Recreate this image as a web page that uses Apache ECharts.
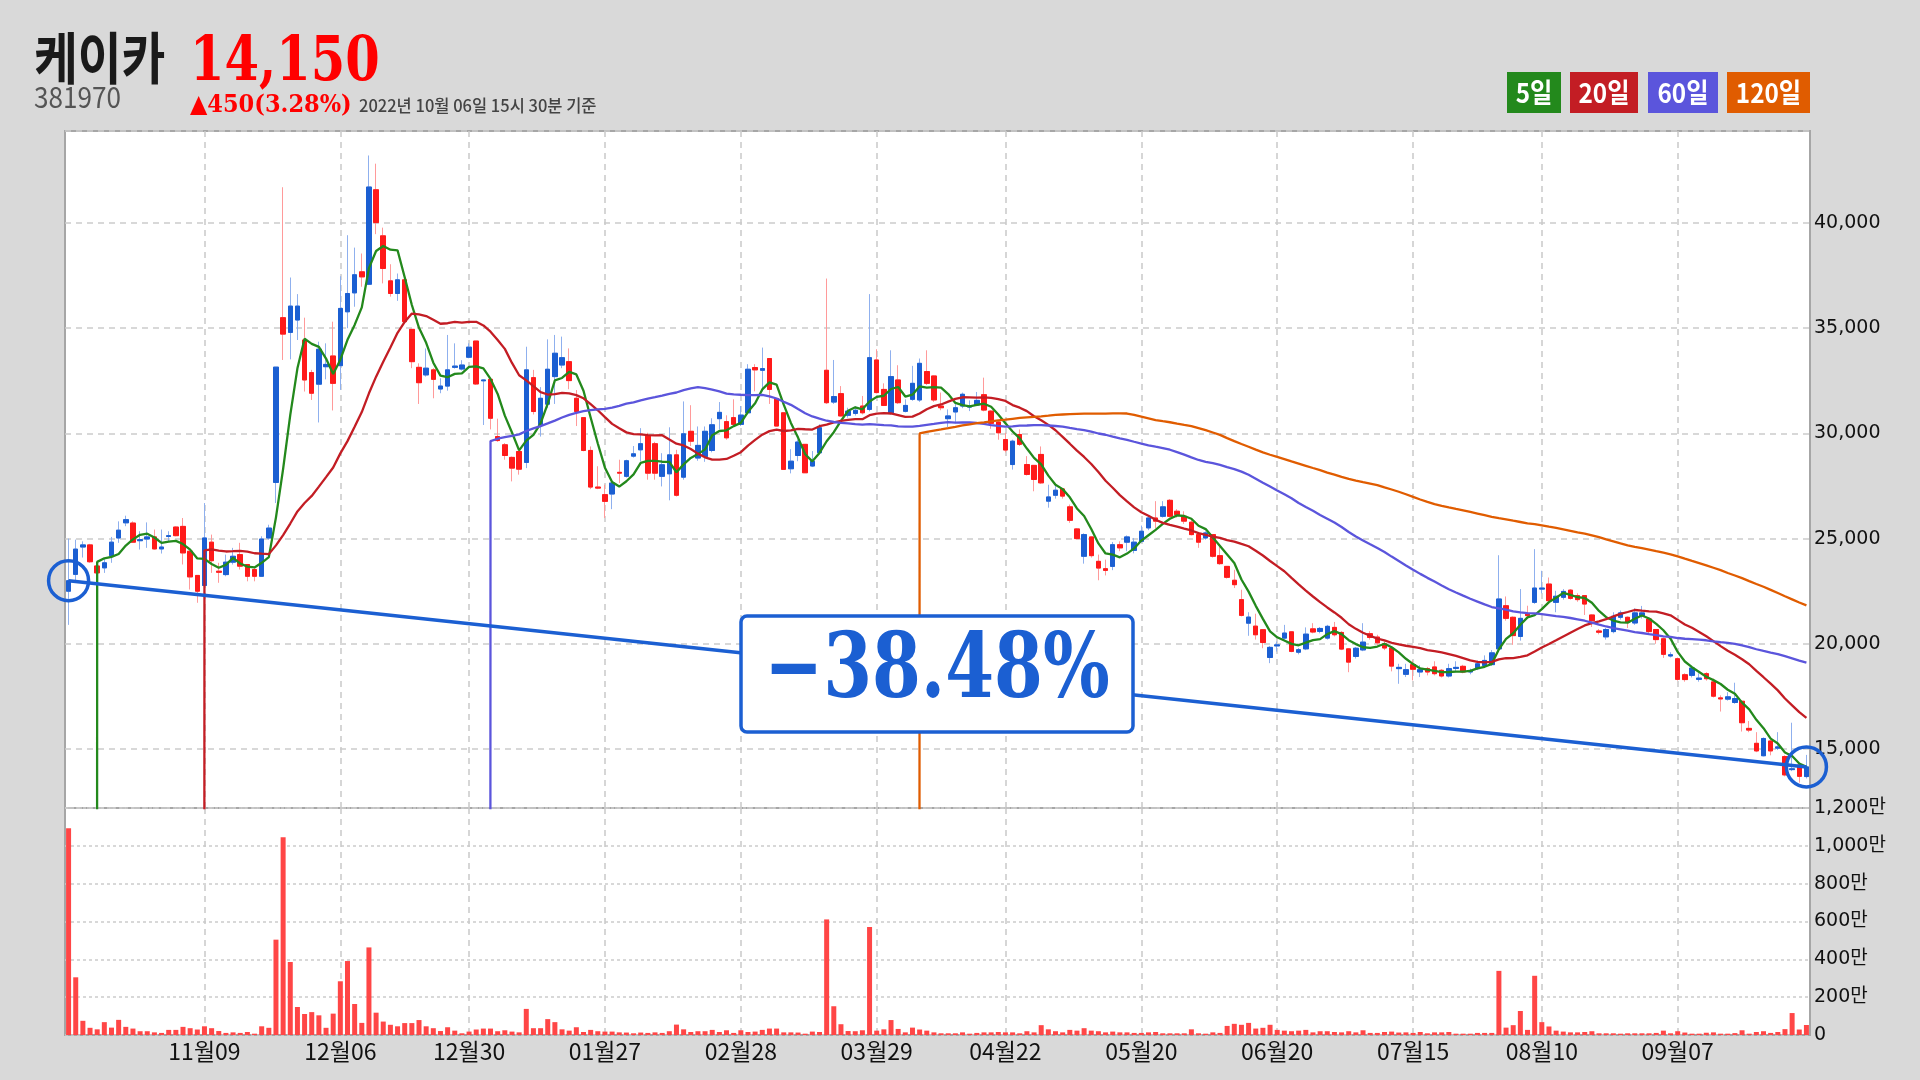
<!DOCTYPE html>
<html><head><meta charset="utf-8">
<script src="https://cdn.jsdelivr.net/npm/echarts@6/dist/echarts.min.js"></script>
<style>html,body{margin:0;padding:0;background:#d9d9d9;}#c{width:1920px;height:1080px;}</style>
</head><body><div id="c"></div>
<script>
const dates = [
'10월13','10월14','10월15','10월18','10월19','10월20','10월21','10월22','10월25','10월26','10월27','10월28','10월29',
'11월01','11월02','11월03','11월04','11월05','11월08','11월09','11월10','11월11','11월12','11월15','11월16','11월17','11월18','11월19','11월22','11월23','11월24','11월25','11월26','11월29','11월30',
'12월01','12월02','12월03','12월06','12월07','12월08','12월09','12월10','12월13','12월14','12월15','12월16','12월17','12월20','12월21','12월22','12월23','12월24','12월27','12월28','12월29','12월30',
'01월03','01월04','01월05','01월06','01월07','01월10','01월11','01월12','01월13','01월14','01월17','01월18','01월19','01월20','01월21','01월24','01월25','01월26','01월27','01월28',
'02월03','02월04','02월07','02월08','02월09','02월10','02월11','02월14','02월15','02월16','02월17','02월18','02월21','02월22','02월23','02월24','02월25','02월28',
'03월02','03월03','03월04','03월07','03월08','03월10','03월11','03월14','03월15','03월16','03월17','03월18','03월21','03월22','03월23','03월24','03월25','03월28','03월29','03월30','03월31',
'04월01','04월04','04월05','04월06','04월07','04월08','04월11','04월12','04월13','04월14','04월15','04월18','04월19','04월20','04월21','04월22','04월25','04월26','04월27','04월28','04월29',
'05월02','05월03','05월04','05월06','05월09','05월10','05월11','05월12','05월13','05월16','05월17','05월18','05월19','05월20','05월23','05월24','05월25','05월26','05월27','05월30','05월31',
'06월02','06월03','06월07','06월08','06월09','06월10','06월13','06월14','06월15','06월16','06월17','06월20','06월21','06월22','06월23','06월24','06월27','06월28','06월29','06월30',
'07월01','07월04','07월05','07월06','07월07','07월08','07월11','07월12','07월13','07월14','07월15','07월18','07월19','07월20','07월21','07월22','07월25','07월26','07월27','07월28','07월29',
'08월01','08월02','08월03','08월04','08월05','08월08','08월09','08월10','08월11','08월12','08월16','08월17','08월18','08월19','08월22','08월23','08월24','08월25','08월26','08월29','08월30','08월31',
'09월01','09월02','09월05','09월06','09월07','09월08','09월13','09월14','09월15','09월16','09월19','09월20','09월21','09월22','09월23','09월26','09월27','09월28','09월29','09월30',
'10월04','10월05','10월06'];

const opens = [
22500,23300,24600,24700,23700,23610,24190,25030,25750,25740,
24900,24980,25080,24510,25100,25550,25580,24400,23250,22770,
24830,23450,23290,23880,24240,23770,23530,23210,25030,27670,
35500,34800,35390,34440,32890,32340,33170,33680,33220,35780,
36680,37680,37090,41580,39390,37250,36650,37300,34945,33140,
32780,33020,32110,32250,33140,33060,33620,34390,32500,32570,
29850,29460,28860,29140,28620,32650,30410,31390,32700,33250,
33410,31670,30750,29190,27450,27090,27120,28150,27960,28920,
29220,29870,29510,27960,28080,28980,27920,30100,28830,28900,
29190,30700,30560,30750,30430,30980,33130,33000,33560,31650,
30980,28320,28950,29480,28450,29080,33000,31490,31890,30860,
30950,31300,31140,33490,32090,30980,32540,31050,31620,31590,
32940,32730,31300,30700,31020,31300,31250,31350,31840,31060,
30540,29710,28520,29950,28520,28480,29000,26780,27060,27360,
26510,25460,24160,25080,23920,23570,23680,24710,24830,24440,
24870,25510,25980,26060,26820,26300,26060,25780,25190,25030,
25190,24190,23680,23020,22100,20980,20840,20670,19350,19900,
20270,20570,19600,19760,20710,20590,20270,20780,20540,19760,
19400,19710,20480,20320,20000,19800,18820,18550,19010,18660,
18820,18900,18740,18470,18830,18930,18660,18820,18970,19010,
19760,21810,21260,20350,21420,21970,22600,22840,21970,22210,
22550,22290,22290,21370,20610,20330,20580,21260,21260,20990,
21340,21180,20680,20240,19420,19290,18530,18500,18310,18580,
18190,17430,17370,17210,17270,15980,15270,14680,15380,15040,
14640,14020,14240,13690];

const closes = [
23000,24500,24700,23900,23370,23850,24830,25400,25900,24830,
24950,25080,24510,24600,25140,25140,24320,23180,22500,25030,
23950,23400,23880,24160,23690,23210,23210,24980,25500,33150,
34720,36050,36050,32540,31910,34000,33280,32380,35940,36650,
37540,37440,41710,40020,37840,36650,37300,35310,33410,32410,
33100,32570,32250,33020,33200,33250,34100,32350,32540,30720,
29660,28950,28350,28300,33020,31040,31670,33050,33810,33600,
32510,31040,29190,27450,27400,26770,27640,28110,28700,29030,
29510,28110,28110,28510,28980,27060,29980,29630,29430,30100,
30410,31000,29790,30430,30870,33050,33020,33080,32090,30350,
28290,28680,29590,28130,28680,30270,31460,31750,30830,31060,
31100,30980,33600,31940,31330,32700,31460,31330,32380,33330,
32380,31590,31220,30830,31220,31860,31300,31570,31110,30480,
30030,29210,29630,29480,28050,27810,27650,26980,27300,27020,
25870,25000,25190,24190,23600,23490,24710,24560,25080,24830,
25350,25980,25830,26510,26060,26140,25830,25190,24830,25270,
24160,23810,23160,22810,21350,21270,20430,20060,19830,19950,
20510,19640,19720,20460,20560,20730,20830,20430,19750,19130,
19790,20080,20300,20050,19800,18940,18880,18770,18790,18770,
18660,18580,18470,18820,18880,18660,18740,19050,19210,19570,
22130,21210,20390,21210,21340,22650,22650,22050,22260,22490,
22160,22100,21890,21100,20550,20680,21310,21470,21020,21470,
21470,20580,20200,19500,19480,18310,18300,18850,18370,18340,
17510,17380,17480,17400,16250,15900,14910,15500,14910,15100,
13770,14060,13700,14150];

const highs = [
25000,24950,24870,24750,23770,24080,25080,25820,26090,25820,
25350,25770,25430,25430,25350,25580,25980,24400,23250,26690,
25190,23850,24240,24560,24800,23770,23600,25110,25660,33150,
41700,37410,36620,35500,33020,34360,34280,35310,37470,39420,
38830,38550,43210,42820,39780,38040,37600,37500,34945,33330,
34040,33100,32620,34680,34280,33480,34280,34390,32560,32600,
30700,29540,28900,29140,34120,33020,32200,34470,34680,34600,
34040,32060,30750,29380,28440,27560,27800,28750,28750,29400,
30250,30030,29600,29060,30290,29220,31520,31340,30330,30330,
30720,31490,30860,31620,31300,33290,33290,34080,33560,31650,
30980,29250,29710,29480,29160,30430,37360,33490,32250,31220,
31300,31780,36620,34000,32380,33950,33240,31620,33210,33560,
33950,32750,31940,31140,31460,31940,31570,31970,32650,31100,
30600,30030,29700,30190,28920,28500,29380,27560,27500,27400,
26620,25500,25250,25100,24240,24000,24840,24870,25150,25030,
25620,26060,26780,26780,26880,26400,26300,25900,25250,25350,
25200,24630,23700,23520,22570,21500,21430,20700,19900,20110,
20900,20600,19800,20780,20980,20800,20900,21040,20600,19800,
19850,20980,20600,20430,20110,19850,19050,19050,19210,18980,
18900,19170,18800,19050,19170,19000,18820,19210,19450,19700,
24210,22250,21300,22600,21810,24500,23470,23150,22520,22600,
22600,22400,22300,21400,20700,20750,21500,21580,21300,21690,
21800,21250,20700,20300,19600,19350,18600,18950,18600,18650,
18350,17550,17700,18150,17300,16330,15800,15550,15450,15800,
14700,16250,14300,14720];

const lows = [
20900,22900,24100,23850,23290,23370,23850,24800,25590,24800,
24480,24560,24480,24290,24870,25110,23770,22580,21950,22660,
23370,22900,23210,23770,23530,22970,22970,23180,24950,26690,
33490,33520,34440,31990,31590,30520,32570,31090,32070,35000,
36020,36970,37050,39470,37130,36500,36300,35250,33100,31400,
32700,31670,31910,32030,33080,32990,33570,32300,30400,30190,
29600,28750,27720,28040,28350,30900,29850,31200,31400,33100,
32100,30350,29150,27350,27350,25980,26400,27640,27900,28850,
28670,27800,27800,27480,26820,27000,27800,29400,28700,28650,
29100,30190,29700,30400,30350,30900,32000,32000,31400,30350,
28290,28100,28680,28130,28400,29000,31400,31400,30800,30750,
30850,30900,31050,31900,31300,30900,31400,31000,31550,31500,
32300,31500,31100,30300,30480,31200,31060,31300,31050,30220,
29700,29100,28280,29400,28000,27250,27600,26470,26900,26900,
25750,24950,23810,24100,23020,23250,23500,24400,24400,24300,
24800,25400,25500,26000,26000,26000,25700,25150,24560,24950,
24100,23750,23100,22650,21300,20380,20200,19790,19080,19630,
20200,19600,19500,19700,20500,20500,20200,20350,19700,18650,
19300,19650,20200,19950,19700,18690,18100,18420,18260,18420,
18500,18500,18400,18400,18700,18600,18550,18750,18900,18950,
19700,21100,19950,20150,21200,21900,22400,22000,21500,22100,
22100,22000,21370,20800,20450,20200,20500,21150,20750,20900,
21200,20500,20000,19330,19350,18250,18200,18400,18200,18250,
17450,16780,17300,17150,15830,15800,14850,14650,14700,14950,
13700,13950,13400,13600];

const volumes = [
10930000,3050000,750000,380000,300000,680000,390000,800000,430000,340000,
200000,200000,140000,110000,270000,270000,430000,360000,290000,460000,
360000,210000,110000,140000,110000,160000,70000,460000,380000,5040000,
10450000,3860000,1480000,1110000,1210000,1040000,380000,1130000,2840000,3910000,
1640000,640000,4630000,1180000,710000,540000,460000,630000,630000,790000,
460000,360000,210000,410000,230000,90000,180000,290000,340000,340000,
200000,250000,180000,140000,1380000,360000,360000,840000,680000,300000,
230000,410000,160000,270000,200000,180000,180000,140000,130000,90000,
130000,110000,140000,110000,200000,550000,300000,160000,200000,200000,
270000,160000,250000,110000,250000,160000,180000,270000,340000,340000,
140000,140000,130000,70000,180000,160000,6110000,1520000,570000,210000,
200000,250000,5710000,230000,300000,790000,320000,140000,390000,290000,
230000,140000,90000,90000,90000,140000,70000,110000,140000,140000,
160000,140000,140000,90000,200000,140000,520000,300000,200000,140000,
270000,230000,360000,230000,200000,140000,180000,140000,140000,110000,
110000,140000,160000,90000,90000,90000,90000,300000,90000,70000,
140000,110000,480000,590000,540000,640000,340000,380000,540000,270000,
230000,200000,230000,270000,140000,200000,200000,160000,140000,200000,
140000,250000,110000,110000,160000,180000,130000,140000,110000,160000,
90000,140000,140000,160000,70000,70000,70000,110000,110000,110000,
3390000,390000,520000,1270000,270000,3130000,680000,450000,230000,180000,
140000,140000,160000,200000,90000,90000,90000,70000,90000,90000,
90000,90000,110000,230000,90000,200000,130000,70000,70000,120000,
140000,70000,70000,100000,250000,70000,160000,200000,110000,160000,
310000,1160000,290000,530000];

const xLabels = ['11월09','12월06','12월30','01월27','02월28','03월29','04월22','05월20','06월20','07월15','08월10','09월07'];
const maPeriods = [5, 20, 60, 120];
const maNames = ['5일', '20일', '60일', '120일'];
const stockName = '케이카';
const stockCode = '381970';
const lastPrice = '14,150';
const changeText = '▲450(3.28%)';
const timeText = '2022년 10월 06일 15시 30분 기준';
const changePctText = '−38.48%';

const maColors = ['#23891c', '#c31d24', '#5b55dc', '#e05c00'];
const BLUE = '#1b5fd2', RED = '#ff1a1a';

const labelSet = new Set(xLabels);
const labelFn = (idx, val) => labelSet.has(val !== undefined ? val : dates[idx]);

const candleData = dates.map((d, i) => [opens[i], closes[i], lows[i], highs[i]]);
const bodyData = dates.map((d, i) => [opens[i], closes[i], Math.min(opens[i], closes[i]), Math.max(opens[i], closes[i])]);

function ma(n) {
  return closes.map((c, i) => {
    if (i < n - 2) return null;
    if (i === n - 2) return -1000000;
    let s = 0;
    for (let k = i - n + 1; k <= i; k++) s += closes[k];
    return +(s / n).toFixed(1);
  });
}
const trendData = dates.map((d, i) => (i === 0 || i === dates.length - 1) ? closes[i] : null);

const comma = v => String(v).replace(/\B(?=(\d{3})+(?!\d))/g, ',');
const axisFont = "'DejaVu Sans','Noto Sans CJK KR',sans-serif";
const xFont = "'Noto Sans CJK KR',sans-serif";

const gridLineX = { show: true, interval: labelFn, alignWithLabel: true, lineStyle: { color: '#c9c9c9', type: [6, 5], width: 1.5 } };

const series = [
  { name: 'wick', type: 'candlestick', xAxisIndex: 0, yAxisIndex: 0, data: candleData, barWidth: 5,
    itemStyle: { color: '#8fb0ee', color0: '#ff9a9a', borderColor: '#8fb0ee', borderColor0: '#ff9a9a', borderWidth: 1 }, z: 2 },
  { name: 'body', type: 'candlestick', xAxisIndex: 0, yAxisIndex: 0, data: bodyData, barWidth: 5,
    itemStyle: { color: BLUE, color0: RED, borderColor: BLUE, borderColor0: RED, borderWidth: 1 }, z: 3 },
];
maPeriods.forEach((n, k) => {
  series.push({ name: maNames[k], type: 'line', xAxisIndex: 0, yAxisIndex: 0, data: ma(n), showSymbol: false,
    clip: true, lineStyle: { color: maColors[k], width: 2.3 }, z: 4 });
});
series.push({ name: 'trend', type: 'line', xAxisIndex: 0, yAxisIndex: 0, data: trendData, connectNulls: true,
  clip: false, symbol: 'circle', symbolSize: 40, showSymbol: true, showAllSymbol: true,
  itemStyle: { color: 'rgba(255,255,255,0)', borderColor: BLUE, borderWidth: 3.5, opacity: 1 },
  lineStyle: { color: BLUE, width: 3.5 }, z: 6 });
series.push({ name: 'volume', type: 'bar', xAxisIndex: 1, yAxisIndex: 1, data: volumes, barWidth: 5,
  itemStyle: { color: '#ff4646' }, z: 2 });

const boxes = [[1507, 54], [1570, 68], [1648, 70], [1727, 83]];
const legendGraphics = [];
maNames.forEach((nm, k) => {
  const [bx, bw] = boxes[k];
  legendGraphics.push({ type: 'rect', shape: { x: bx, y: 72, width: bw, height: 41 }, style: { fill: maColors[k] }, z: 10 });
  legendGraphics.push({ type: 'text', x: bx + bw / 2, y: 93, scaleX: 0.9, z: 11,
    style: { text: nm, fill: '#fff', font: "bold 27px 'Noto Sans CJK KR'", textAlign: 'center', textVerticalAlign: 'middle', align: 'center', verticalAlign: 'middle' } });
});

const option = {
  animation: false,
  backgroundColor: '#d9d9d9',
  grid: [
    { left: 65, width: 1745, top: 131, height: 677, show: true, backgroundColor: '#ffffff', borderColor: '#a6a6a6', borderWidth: 2 },
    { left: 65, width: 1745, top: 808, height: 227, show: true, backgroundColor: '#ffffff', borderColor: '#a6a6a6', borderWidth: 2 }
  ],
  xAxis: [
    { type: 'category', gridIndex: 0, data: dates, boundaryGap: true, axisLine: { show: false }, axisTick: { show: false },
      axisLabel: { show: false }, splitLine: gridLineX },
    { type: 'category', gridIndex: 1, data: dates, boundaryGap: true, axisLine: { show: false }, axisTick: { show: false },
      axisLabel: { show: true, interval: labelFn, color: '#111', fontSize: 23, fontFamily: xFont, margin: 5 },
      splitLine: gridLineX }
  ],
  yAxis: [
    { type: 'value', gridIndex: 0, position: 'right', min: 12196, max: 44373, splitNumber: 6,
      axisLine: { show: false }, axisTick: { show: false },
      axisLabel: { showMinLabel: false, showMaxLabel: false, formatter: v => comma(v), color: '#111', fontSize: 19, fontFamily: axisFont, margin: 4 },
      splitLine: { show: true, lineStyle: { color: '#cccccc', type: [6, 5], width: 1.5 } } },
    { type: 'value', gridIndex: 1, position: 'right', min: 0, max: 12000000, interval: 2000000,
      axisLine: { show: false }, axisTick: { show: false },
      axisLabel: { formatter: v => v === 0 ? '0' : comma(v / 10000) + '만', color: '#111', fontSize: 19, fontFamily: axisFont, margin: 4 },
      splitLine: { show: true, lineStyle: { color: '#cccccc', type: [3, 3], width: 1.5 } } }
  ],
  series: series,
  graphic: [
    { type: 'text', x: 34, y: 58, scaleX: 0.85, z: 10,
      style: { text: stockName, fill: '#1a1a1a', font: "bold 56px 'Noto Sans CJK KR'", textAlign: 'left', textVerticalAlign: 'middle', align: 'left', verticalAlign: 'middle' } },
    { type: 'text', x: 190, y: 64, scaleX: 0.8, z: 10,
      style: { text: lastPrice, fill: '#ff0000', font: "bold 62px 'DejaVu Serif'", textAlign: 'left', textVerticalAlign: 'middle', align: 'left', verticalAlign: 'middle' } },
    { type: 'text', x: 34, y: 97, scaleX: 0.9, z: 10,
      style: { text: stockCode, fill: '#555555', font: "29px 'Noto Sans CJK KR'", textAlign: 'left', textVerticalAlign: 'middle', align: 'left', verticalAlign: 'middle' } },
    { type: 'text', x: 190, y: 105, scaleX: 0.9, z: 10,
      style: { text: changeText, fill: '#ff0000', font: "bold 25px 'DejaVu Serif'", textAlign: 'left', textVerticalAlign: 'middle', align: 'left', verticalAlign: 'middle' } },
    { type: 'text', x: 359, y: 106, scaleX: 0.97, z: 10,
      style: { text: timeText, fill: '#444444', font: "500 17px 'Noto Sans CJK KR'", textAlign: 'left', textVerticalAlign: 'middle', align: 'left', verticalAlign: 'middle' } },
    ...legendGraphics,
    { type: 'rect', shape: { x: 741, y: 616, width: 392, height: 116, r: 6 }, style: { fill: '#ffffff', stroke: BLUE, lineWidth: 3.5 }, z: 20 },
    { type: 'text', x: 937, y: 674, scaleX: 0.78, z: 21,
      style: { text: changePctText, fill: BLUE, font: "bold 90px 'DejaVu Serif'", textAlign: 'center', textVerticalAlign: 'middle', align: 'center', verticalAlign: 'middle' } }
  ]
};

const chart = echarts.init(document.getElementById('c'), null, { renderer: 'canvas', width: 1920, height: 1080 });
chart.setOption(option);
</script>
</body></html>
